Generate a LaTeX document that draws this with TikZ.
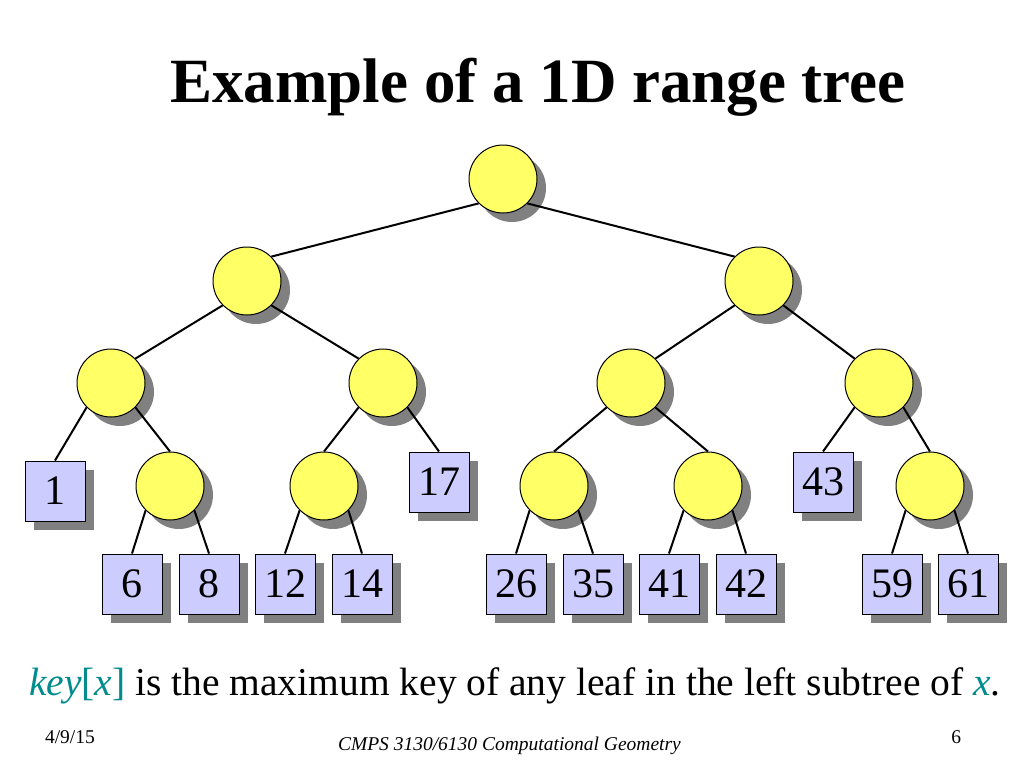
\documentclass[tikz,border=0pt]{standalone}
\usepackage{fontspec}
\setmainfont{Liberation Serif}
\usepackage{tikz}
\usetikzlibrary{shadows}
\definecolor{nodeyellow}{RGB}{255,255,102}
\definecolor{leafblue}{RGB}{204,204,255}
\definecolor{keyteal}{RGB}{0,140,140}
\definecolor{shadowgray}{RGB}{128,128,128}

\begin{document}
\begin{tikzpicture}[x=1pt, y=-1pt, line width=2pt,
  inner/.style = {draw, line width=1pt, circle, fill=nodeyellow, minimum size=68pt, inner sep=0pt,
    drop shadow={shadow xshift=9pt, shadow yshift=-9pt, fill=shadowgray, opacity=1}},
  leaf/.style = {draw, line width=1pt, rectangle, fill=leafblue, minimum size=60pt, inner sep=0pt,
    font=\fontsize{42}{42}\selectfont,
    drop shadow={shadow xshift=9pt, shadow yshift=-9pt, fill=shadowgray, opacity=1}},
  txt/.style = {inner sep=0pt}]
\useasboundingbox (0,0) rectangle (1024,768);
% title
\node[txt, anchor=base] (title) at (538,102) {\fontsize{63}{70}\selectfont\bfseries Example of a 1D range tree};
% inner nodes
\node[inner] (r) at (503,179) {};
\node[inner] (a) at (247,281) {};
\node[inner] (b) at (759,281) {};
\node[inner] (aa) at (111,383) {};
\node[inner] (ab) at (383,383) {};
\node[inner] (ba) at (631,383) {};
\node[inner] (bb) at (879,383) {};
\node[inner] (aab) at (170,486) {};
\node[inner] (aba) at (324,486) {};
\node[inner] (baa) at (554,486) {};
\node[inner] (bab) at (708,486) {};
\node[inner] (bbb) at (930,486) {};
% leaves
\node[leaf] (l1) at (55,491) {1};
\node[leaf] (l17) at (439,482) {17};
\node[leaf] (l43) at (823,482) {43};
\node[leaf] (l6) at (132,584) {6};
\node[leaf] (l8) at (209,584) {8};
\node[leaf] (l12) at (285,584) {12};
\node[leaf] (l14) at (362,584) {14};
\node[leaf] (l26) at (516,584) {26};
\node[leaf] (l35) at (593,584) {35};
\node[leaf] (l41) at (669,584) {41};
\node[leaf] (l42) at (746,584) {42};
\node[leaf] (l59) at (892,584) {59};
\node[leaf] (l61) at (968,584) {61};
% edges
\draw (r.south west) -- (a.north east);
\draw (r.south east) -- (b.north west);
\draw (a.south west) -- (aa.north east);
\draw (a.south east) -- (ab.north west);
\draw (b.south west) -- (ba.north east);
\draw (b.south east) -- (bb.north west);
\draw (aa.south west) -- (l1.north);
\draw (aa.south east) -- (aab.north);
\draw (ab.south west) -- (aba.north);
\draw (ab.south east) -- (l17.north);
\draw (ba.south west) -- (baa.north);
\draw (ba.south east) -- (bab.north);
\draw (bb.south west) -- (l43.north);
\draw (bb.south east) -- (bbb.north);
\draw (aab.south west) -- (l6.north);
\draw (aab.south east) -- (l8.north);
\draw (aba.south west) -- (l12.north);
\draw (aba.south east) -- (l14.north);
\draw (baa.south west) -- (l26.north);
\draw (baa.south east) -- (l35.north);
\draw (bab.south west) -- (l41.north);
\draw (bab.south east) -- (l42.north);
\draw (bbb.south west) -- (l59.north);
\draw (bbb.south east) -- (l61.north);
% caption and footer
\node[txt, anchor=base west] (cap) at (28,695) {\fontsize{39.5}{44}\selectfont
  \textcolor{keyteal}{\textit{key}[\textit{x}]} is the maximum key of any leaf in the left subtree of \textcolor{keyteal}{\textit{x}}.};
\node[txt, anchor=base west] (date) at (44,743) {\fontsize{19.5}{22}\selectfont 4/9/15};
\node[txt, anchor=base west] (course) at (337,750) {\fontsize{19.5}{22}\selectfont\itshape CMPS 3130/6130 Computational Geometry};
\node[txt, anchor=base east] (page) at (962,743) {\fontsize{19.5}{22}\selectfont 6};
\end{tikzpicture}
\end{document}
